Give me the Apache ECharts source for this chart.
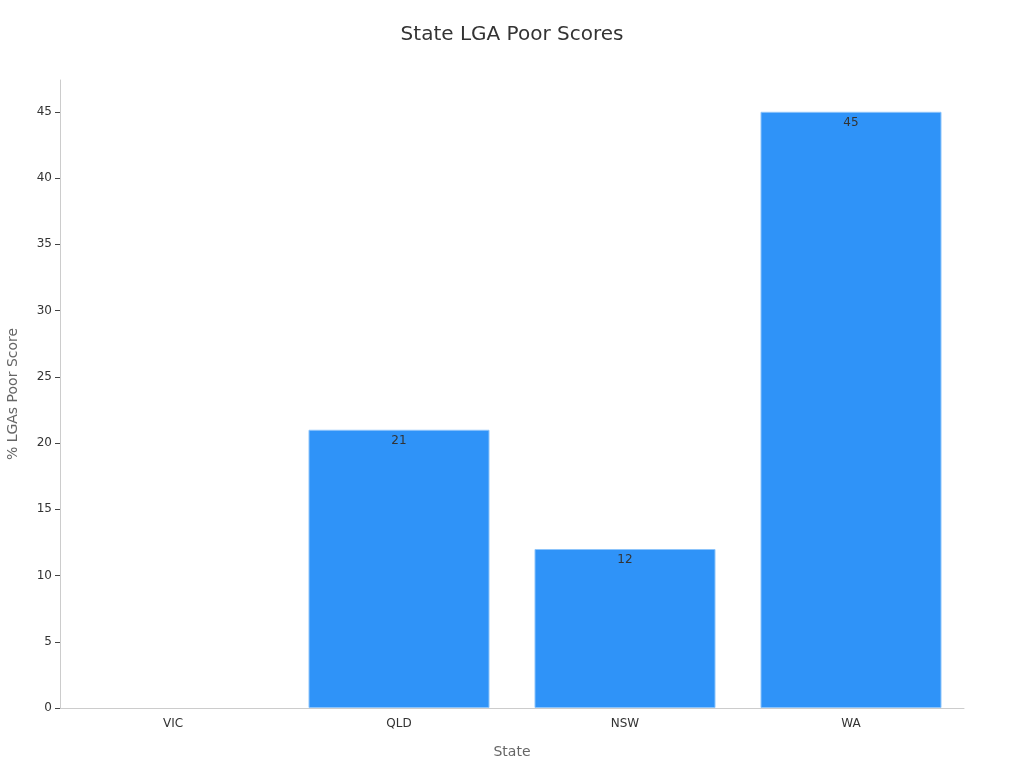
<!DOCTYPE html>
<html>
<head>
<meta charset="utf-8">
<script src="https://cdn.jsdelivr.net/npm/echarts@6/dist/echarts.min.js"></script>
<style>
html,body{margin:0;padding:0;background:#fff;}
#chart{width:1024px;height:768px;}
</style>
</head>
<body>
<div id="chart"></div>
<script>
var categories = ['VIC', 'QLD', 'NSW', 'WA'];
var poorScores = [0, 21, 12, 45];
var yTicks = [0, 5, 10, 15, 20, 25, 30, 35, 40, 45];

var seriesData = poorScores.map(function (v) {
  return v === 0 ? { value: v, itemStyle: { borderWidth: 0, opacity: 0 }, label: { show: false } } : v;
});

var chart = echarts.init(document.getElementById('chart'));
chart.setOption({
  animation: false,
  backgroundColor: '#ffffff',
  textStyle: { fontFamily: 'DejaVu Sans' },
  title: {
    text: 'State LGA Poor Scores',
    left: 'center',
    top: 20,
    textStyle: { fontSize: 20, fontWeight: 'normal', color: '#333333', fontFamily: 'DejaVu Sans' }
  },
  grid: { left: 60, right: 60, top: 80, bottom: 60, containLabel: false, outerBoundsMode: 'none' },
  xAxis: {
    type: 'category',
    data: categories,
    name: 'State',
    nameLocation: 'middle',
    nameGap: 37,
    nameTextStyle: { fontSize: 14, color: '#666666' },
    axisLine: { lineStyle: { color: '#cccccc' } },
    axisTick: { alignWithLabel: true, length: 5, lineStyle: { color: '#999999' } },
    axisLabel: { fontSize: 12, color: '#333333', margin: 10 }
  },
  yAxis: {
    type: 'value',
    min: 0,
    max: 47.4,
    name: '% LGAs Poor Score',
    nameLocation: 'middle',
    nameGap: 40,
    nameTextStyle: { fontSize: 14, color: '#666666' },
    axisLine: { show: true, lineStyle: { color: '#cccccc' } },
    axisTick: { show: true, length: 5, customValues: yTicks, lineStyle: { color: '#444444' } },
    axisLabel: { fontSize: 12, color: '#333333', margin: 8, customValues: yTicks },
    splitLine: { show: false }
  },
  series: [{
    type: 'bar',
    data: seriesData,
    barWidth: 181,
    itemStyle: { color: '#2f93f8', borderColor: '#8cc4fb', borderWidth: 1 },
    label: {
      show: true,
      position: 'insideTop',
      distance: 5,
      fontSize: 12,
      color: '#333333'
    }
  }]
});
</script>
</body>
</html>
